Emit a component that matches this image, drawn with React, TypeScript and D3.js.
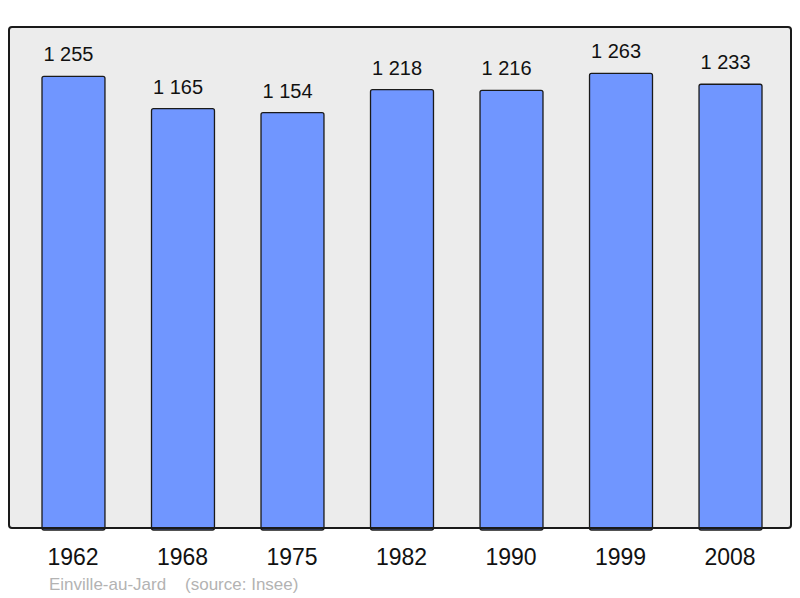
import React, { useEffect, useRef } from 'react';
import * as d3 from 'd3';

// Population de Einville-au-Jard (source: Insee)
const years = ['1962', '1968', '1975', '1982', '1990', '1999', '2008'];
const population = [1255, 1165, 1154, 1218, 1216, 1263, 1233];
const commune = 'Einville-au-Jard';
const source = '(source: Insee)';

const width = 800;
const height = 598;

const App = () => {
    const ref = useRef<SVGSVGElement>(null);

    useEffect(() => {
        const svg = d3.select(ref.current);
        svg.selectAll('*').remove();

        const frame = { left: 9, top: 27, right: 791, bottom: 528 };
        const font = '"Liberation Sans", Arial, sans-serif';

        const x = d3.scaleBand<string>()
            .domain(years)
            .range([42, 762])
            .paddingInner(0.425)
            .paddingOuter(0);

        const y = d3.scaleLinear()
            .domain([0, 1392])
            .range([frame.bottom, frame.top]);

        const fmt = d3.formatLocale({ decimal: ',', thousands: '\u00a0', grouping: [3], currency: ['', ''] }).format(',d');

        // plot background
        svg.append('rect')
            .attr('x', frame.left)
            .attr('y', frame.top)
            .attr('width', frame.right - frame.left)
            .attr('height', frame.bottom - frame.top)
            .attr('rx', 3)
            .attr('fill', '#ececec');

        svg.append('g')
            .selectAll('rect')
            .data(population)
            .join('rect')
            .attr('x', (d, i) => x(years[i])!)
            .attr('y', d => y(d))
            .attr('width', x.bandwidth())
            .attr('height', d => frame.bottom - y(d) + 2)
            .attr('rx', 2)
            .attr('fill', '#7096ff')
            .attr('stroke', '#1a1a1a')
            .attr('stroke-width', 1.3);

        // frame border on top of the bars
        svg.append('rect')
            .attr('x', frame.left)
            .attr('y', frame.top)
            .attr('width', frame.right - frame.left)
            .attr('height', frame.bottom - frame.top)
            .attr('rx', 3)
            .attr('fill', 'none')
            .attr('stroke', '#1a1a1a')
            .attr('stroke-width', 2);

        // value labels (sit a little left of the bar centre, as in the original)
        svg.append('g')
            .attr('font-family', font)
            .attr('font-size', 20)
            .attr('text-anchor', 'middle')
            .attr('fill', '#111')
            .selectAll('text')
            .data(population)
            .join('text')
            .attr('x', (d, i) => x(years[i])! + x.bandwidth() / 2 - 5)
            .attr('y', d => y(d) - 15)
            .text(d => fmt(d));

        // year labels
        svg.append('g')
            .attr('font-family', font)
            .attr('font-size', 23)
            .attr('text-anchor', 'middle')
            .attr('fill', '#111')
            .selectAll('text')
            .data(years)
            .join('text')
            .attr('x', d => x(d)! + x.bandwidth() / 2 - 0.5)
            .attr('y', 565)
            .text(d => d);

        svg.append('text')
            .attr('x', 49)
            .attr('y', 590)
            .attr('font-family', font)
            .attr('font-size', 17)
            .attr('fill', '#b3b3b3')
            .style('white-space', 'pre')
            .text(`${commune}    ${source}`);
    }, []);

    return (
        <svg
            ref={ref}
            width={width}
            height={height}
            style={{ position: 'absolute', left: 0, top: 0, background: '#fff' }}
        />
    );
};

export default App;
